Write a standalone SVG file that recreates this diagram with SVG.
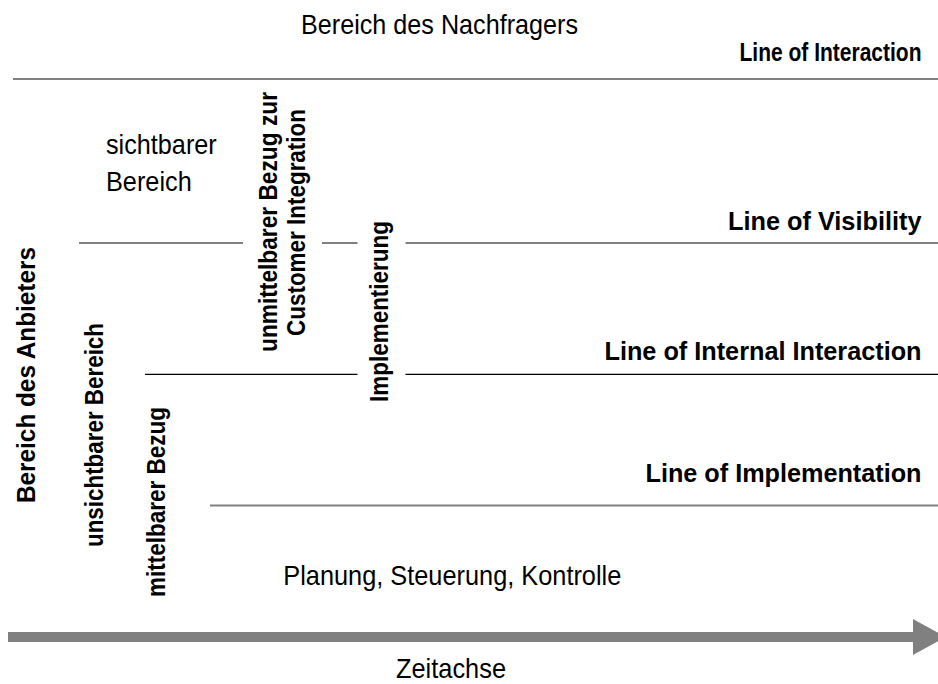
<svg xmlns="http://www.w3.org/2000/svg" width="938" height="684" viewBox="0 0 938 684">
  <style>
    text { font-family: "Liberation Sans", Arial, sans-serif; font-size: 28px; fill: #000; }
    .b { font-weight: bold; font-size: 25.5px; }
    .end { text-anchor: end; }
    .mid { text-anchor: middle; }
    .grey { stroke: #808080; stroke-width: 2; fill: none; }
    .dark { stroke: #000; stroke-width: 1.3; fill: none; }
  </style>
  <rect width="938" height="684" fill="#fff"/>

  <!-- horizontal boundary lines -->
  <g id="lines">
    <line class="grey" x1="13" y1="79" x2="938" y2="79"/>
    <line class="grey" x1="79" y1="243" x2="243" y2="243"/>
    <line class="grey" x1="322" y1="243" x2="357.5" y2="243"/>
    <line class="grey" x1="405.5" y1="243" x2="938" y2="243"/>
    <line class="dark" x1="145" y1="374.3" x2="357.5" y2="374.3"/>
    <line class="dark" x1="405.5" y1="374.3" x2="938" y2="374.3"/>
    <line class="grey" x1="210" y1="505.5" x2="938" y2="505.5"/>
  </g>

  <!-- line labels -->
  <g id="line-labels">
    <text class="b end" x="921.5" y="61" textLength="182" lengthAdjust="spacingAndGlyphs">Line of Interaction</text>
    <text class="b end" x="921.5" y="230" textLength="193.5" lengthAdjust="spacingAndGlyphs">Line of Visibility</text>
    <text class="b end" x="921.5" y="360" textLength="317" lengthAdjust="spacingAndGlyphs">Line of Internal Interaction</text>
    <text class="b end" x="921.5" y="482" textLength="276" lengthAdjust="spacingAndGlyphs">Line of Implementation</text>
  </g>

  <!-- area labels -->
  <g id="areas">
    <text x="301" y="34" textLength="277" lengthAdjust="spacingAndGlyphs">Bereich des Nachfragers</text>
    <text x="106" y="154.3" textLength="110.7" lengthAdjust="spacingAndGlyphs">sichtbarer</text>
    <text x="106" y="190.7" textLength="85.7" lengthAdjust="spacingAndGlyphs">Bereich</text>
    <text x="283.3" y="585" textLength="338" lengthAdjust="spacingAndGlyphs">Planung, Steuerung, Kontrolle</text>
  </g>

  <!-- vertical labels -->
  <g id="vertical-labels">
    <text class="b mid" transform="translate(35,375) rotate(-90)" textLength="256" lengthAdjust="spacingAndGlyphs">Bereich des Anbieters</text>
    <text class="b mid" transform="translate(103.3,435) rotate(-90)" textLength="224" lengthAdjust="spacingAndGlyphs">unsichtbarer Bereich</text>
    <text class="b mid" transform="translate(165,502) rotate(-90)" textLength="190" lengthAdjust="spacingAndGlyphs">mittelbarer Bezug</text>
    <text class="b mid" transform="translate(276.7,222) rotate(-90)" textLength="260" lengthAdjust="spacingAndGlyphs">unmittelbarer Bezug zur</text>
    <text class="b mid" transform="translate(305,222.5) rotate(-90)" textLength="227" lengthAdjust="spacingAndGlyphs">Customer Integration</text>
    <text class="b mid" transform="translate(388,311.5) rotate(-90)" textLength="181" lengthAdjust="spacingAndGlyphs">Implementierung</text>
  </g>

  <!-- time axis -->
  <g id="time-axis">
    <rect x="8" y="632" width="906" height="10" fill="#808080"/>
    <polygon points="913,619 946,637 913,655" fill="#808080"/>
    <text x="396" y="678" textLength="110" lengthAdjust="spacingAndGlyphs">Zeitachse</text>
  </g>
</svg>
